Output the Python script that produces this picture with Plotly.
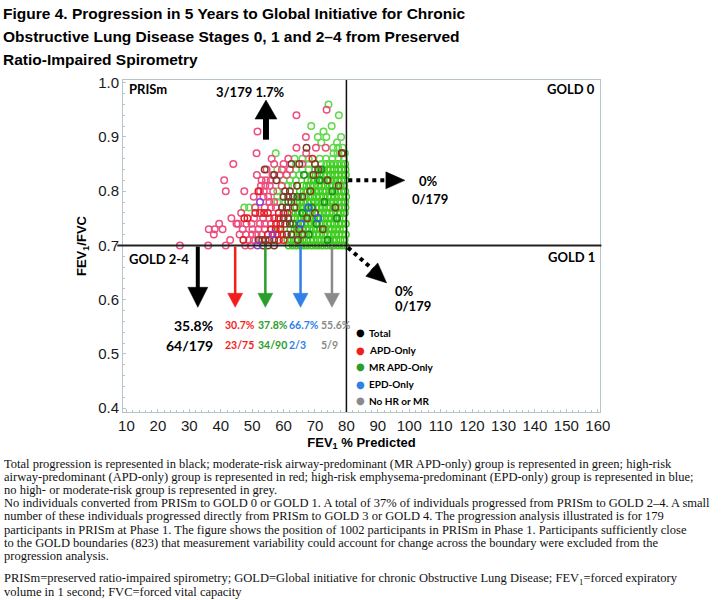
import plotly.graph_objects as go

# ---------------- data ----------------
# Scatter: PRISm participants at Phase 1 (FEV1 % predicted, FEV1/FVC)
pink_x = [27.0, 36.0, 41.6, 47.8, 49.5, 49.0, 50.5, 37.8, 46.0, 48.0, 50.0, 51.4, 53.0,
          36.2, 38.1, 40.6, 47.0, 50.1, 52.0, 54.0, 45.0, 48.2, 49.8, 52.5, 54.0, 56.0,
          43.4, 50.6, 53.5, 55.5, 46.5, 51.0, 56.0, 54.0, 57.5, 55.5, 57.0, 50.5, 53.6, 55.1,
          41.6, 47.5, 52.5, 53.7, 56.7, 52.8, 54.2, 55.6, 59.4, 41.1, 53.0, 54.4, 55.9,
          51.5, 56.5, 58.8, 61.0, 54.6, 59.5, 62.0, 44.0, 57.0, 60.0, 66.0, 56.2, 61.5,
          51.4, 67.2, 64.1, 70.3, 73.4, 67.1, 51.7, 64.1, 73.7, 43.0, 45.5, 39.5]
pink_y = [0.70, 0.70, 0.70, 0.70, 0.70, 0.71, 0.71, 0.72, 0.72, 0.72, 0.72, 0.72, 0.72,
          0.73, 0.73, 0.73, 0.73, 0.73, 0.73, 0.73, 0.74, 0.74, 0.74, 0.74, 0.74, 0.74,
          0.75, 0.75, 0.75, 0.75, 0.76, 0.77, 0.77, 0.77, 0.77, 0.78, 0.78, 0.79, 0.79, 0.79,
          0.80, 0.80, 0.80, 0.80, 0.80, 0.81, 0.81, 0.81, 0.81, 0.82, 0.82, 0.82, 0.82,
          0.83, 0.83, 0.83, 0.83, 0.84, 0.84, 0.84, 0.85, 0.85, 0.85, 0.85, 0.86, 0.86,
          0.87, 0.87, 0.88, 0.88, 0.88, 0.90, 0.91, 0.94, 0.95, 0.71, 0.74, 0.74]

red_x = [47.2, 54.3, 58.5, 60.0, 55.0, 58.0, 59.5, 56.0, 57.5, 59.0, 57.6, 59.0,
         47.5, 48.5, 57.0, 58.5, 51.0, 52.5, 53.8, 55.0, 58.5, 60.0, 61.3, 52.0, 69.2, 78.7]
red_y = [0.71, 0.71, 0.71, 0.71, 0.72, 0.72, 0.72, 0.73, 0.73, 0.73, 0.74, 0.74,
         0.75, 0.75, 0.75, 0.75, 0.76, 0.76, 0.76, 0.76, 0.76, 0.76, 0.76, 0.80, 0.86, 0.87]

brown_x = [53.5, 55.0, 57.0, 52.0, 53.2, 55.5, 57.0, 61.0, 62.5, 60.5, 62.0, 60.0, 61.5,
           59.5, 61.0, 62.5, 60.0, 61.5, 63.0, 60.5, 62.0, 64.3, 57.7, 57.0, 54.0, 62.5,
           65.0, 70.0, 78.5, 67.3, 65.0, 67.5, 64.5, 66.0, 68.5, 63.5, 70.0, 72.5, 76.5,
           69.5, 74.0, 71.0, 77.5, 66.0]
brown_y = [0.70, 0.70, 0.70, 0.71, 0.71, 0.71, 0.71, 0.72, 0.72, 0.74, 0.74, 0.75, 0.75,
           0.77, 0.77, 0.78, 0.79, 0.79, 0.79, 0.80, 0.80, 0.81, 0.82, 0.83, 0.84, 0.85,
           0.85, 0.85, 0.87, 0.88, 0.73, 0.75, 0.71, 0.79, 0.80, 0.77, 0.76, 0.73, 0.77,
           0.83, 0.82, 0.84, 0.81, 0.72]

purple_x = [52.5, 56.5, 51.7]
purple_y = [0.78, 0.72, 0.70]
blue_x = [67.9, 71.0, 65.5]
blue_y = [0.77, 0.75, 0.74]

green_x = [58.5, 47.5, 49.0, 50.9, 58.0, 60.5, 58.0, 58.0, 61.4, 62.8, 60.0, 62.0, 63.9,
           63.0, 65.0, 58.0, 64.0, 66.0, 68.0, 64.0, 68.0, 72.0, 63.5, 66.0, 68.0, 71.5,
           73.5, 75.5, 77.5, 79.2, 57.5, 75.9, 77.2, 79.5, 75.8, 77.3, 78.8, 72.0, 77.0,
           70.9, 73.6, 78.3, 72.7, 68.8, 75.3, 77.6, 74.3]
green_y = [0.73, 0.77, 0.77, 0.77, 0.78, 0.78, 0.79, 0.80, 0.81, 0.81, 0.82, 0.82, 0.82,
           0.83, 0.83, 0.84, 0.84, 0.84, 0.84, 0.85, 0.85, 0.85, 0.86, 0.86, 0.86, 0.86,
           0.86, 0.86, 0.86, 0.86, 0.87, 0.87, 0.87, 0.87, 0.88, 0.88, 0.88, 0.89, 0.89,
           0.90, 0.90, 0.90, 0.91, 0.92, 0.92, 0.94, 0.96]

darkgreen_x = [66.0, 70.5, 73.0, 68.0, 75.5, 71.5, 77.0, 64.5, 69.0, 74.0, 66.5, 72.0, 63.0, 61.5]
darkgreen_y = [0.76, 0.74, 0.78, 0.72, 0.80, 0.82, 0.75, 0.79, 0.77, 0.71, 0.83, 0.84, 0.74, 0.78]

# dense band of participants just below the GOLD 0 boundary (rows of FEV1/FVC)
dense_y = [0.70, 0.71, 0.72, 0.73, 0.74, 0.75, 0.76, 0.77, 0.78, 0.79, 0.80, 0.81, 0.82, 0.83, 0.84, 0.85]
dense_x = [
    [61.6, 62.9, 64.0, 65.3, 66.5, 67.6, 68.9, 70.1, 71.2, 72.4, 73.7, 74.9, 76.0, 77.3, 78.5, 79.6],
    [61.2, 62.4, 63.7, 64.8, 66.0, 67.3, 68.5, 69.6, 70.9, 72.1, 73.2, 74.5, 75.7, 76.8, 78.1, 79.4],
    [63.1, 64.3, 65.6, 66.7, 67.9, 69.2, 70.4, 71.5, 72.8, 74.0, 75.1, 76.4, 77.6, 78.7, 79.8],
    [62.2, 63.5, 64.6, 65.9, 67.1, 68.2, 69.5, 70.7, 71.8, 73.1, 74.3, 75.4, 76.7, 77.9, 79.1],
    [63.0, 64.2, 65.4, 66.6, 67.8, 69.0, 70.3, 71.4, 72.6, 73.9, 75.0, 76.2, 77.5, 78.6, 79.8],
    [63.3, 64.5, 65.7, 66.9, 68.1, 69.3, 70.6, 71.7, 72.9, 74.2, 75.3, 76.5, 77.8, 78.9],
    [62.6, 63.8, 65.0, 66.3, 67.4, 68.6, 69.9, 71.0, 72.2, 73.5, 74.6, 75.8, 77.1, 78.2, 79.5],
    [64.1, 65.3, 66.5, 67.7, 68.9, 70.2, 71.3, 72.5, 73.8, 74.9, 76.1, 77.4, 78.5, 79.7],
    [64.0, 65.2, 66.4, 67.6, 68.8, 70.0, 71.3, 72.4, 73.6, 74.8, 76.0, 77.3, 78.4, 79.6],
    [64.3, 65.5, 66.7, 67.9, 69.1, 70.4, 71.5, 72.7, 74.0, 75.1, 76.3, 77.6, 78.7, 79.9],
    [65.2, 66.4, 67.6, 68.8, 70.0, 71.2, 72.5, 73.6, 74.8, 76.1, 77.2, 78.4, 79.6],
    [66.1, 67.3, 68.5, 69.7, 71.0, 72.1, 73.3, 74.6, 75.7, 76.9, 78.2, 79.3],
    [67.6, 68.8, 70.0, 71.2, 72.4, 73.7, 74.8, 76.0, 77.3, 78.4, 79.6],
    [69.0, 70.2, 71.4, 72.7, 73.8, 75.0, 76.3, 77.4, 78.6, 79.8],
    [70.1, 71.3, 72.5, 73.8, 74.9, 76.1, 77.4, 78.5, 79.7],
    [73.6, 74.8, 76.0, 77.2, 78.4, 79.6],
]

# Progression to GOLD 2-4 by group
groups = ["Total", "APD-Only", "MR APD-Only", "EPD-Only", "No HR or MR"]
group_colors = ["#000000", "#f21d1d", "#2a9d2a", "#2f80e8", "#8a8a8a"]
group_arrow_x = [32.7, 44.6, 54.2, 65.4, 75.4]
group_pct = ["35.8%", "30.7%", "37.8%", "66.7%", "55.6%"]
group_frac = ["64/179", "23/75", "34/90", "2/3", "5/9"]

# ---------------- layout helpers ----------------
W, H = 728, 600
L, R, T, B = 123, 128, 80, 188
X0, X1 = 8.9, 160.7
Y0, Y1 = 0.393, 1.005
PW, PH = W - L - R, H - T - B


def pxx(p):
    return (p - L) / PW


def pxy(p):
    return (H - B - p) / PH


fig = go.Figure()

flat_dx = [x for row in dense_x for x in row]
flat_dy = [y for row, y in zip(dense_x, dense_y) for _ in row]


def add_pts(xs, ys, color, name):
    fig.add_trace(go.Scatter(
        x=xs, y=ys, mode="markers", name=name, showlegend=False, hoverinfo="skip",
        marker=dict(symbol="circle-open", size=6.5, color=color, line=dict(width=1.5))))


add_pts(flat_dx, flat_dy, "#3fcc1f", "dense")
add_pts(green_x, green_y, "#5fd84a", "green")
add_pts(pink_x, pink_y, "#ec4d7d", "pink")
add_pts(darkgreen_x, darkgreen_y, "#1d8a1d", "darkgreen")
add_pts(red_x, red_y, "#de1f26", "red")
add_pts(brown_x, brown_y, "#7d3a2a", "brown")
add_pts(purple_x, purple_y, "#8e3ad0", "purple")
add_pts(blue_x, blue_y, "#2f5fe0", "blue")

shapes = []
# boundary lines
shapes.append(dict(type="line", xref="paper", yref="y", x0=-0.012, x1=1.003, y0=0.70, y1=0.70,
                   line=dict(color="#222222", width=2)))
shapes.append(dict(type="line", xref="x", yref="paper", x0=80, x1=80, y0=0, y1=1,
                   line=dict(color="#111111", width=1.5)))


def head(x, y, path, color):
    # arrow head drawn in pixel units, anchored at the arrow tip (data coords)
    return dict(type="path", xref="x", yref="y", xsizemode="pixel", ysizemode="pixel",
                xanchor=x, yanchor=y, path=path, fillcolor=color, line=dict(color=color, width=0.5))


# up arrow (3/179)
shapes.append(dict(type="line", xref="x", yref="y", x0=54.4, x1=54.4, y0=0.895, y1=0.935,
                   line=dict(color="#000", width=6)))
shapes.append(head(54.4, 0.968, "M-11,-19 L11,-19 L0,0 Z", "#000"))

# group arrows to GOLD 2-4
for i, (gx, gc) in enumerate(zip(group_arrow_x, group_colors)):
    if i == 0:
        shapes.append(dict(type="line", xref="x", yref="y", x0=gx, x1=gx, y0=0.698, y1=0.615,
                           line=dict(color=gc, width=4)))
        shapes.append(head(gx, 0.586, "M-10,20 L10,20 L0,0 Z", gc))
    else:
        shapes.append(dict(type="line", xref="x", yref="y", x0=gx, x1=gx, y0=0.698, y1=0.607,
                           line=dict(color=gc, width=2.5)))
        shapes.append(head(gx, 0.586, "M-7.5,14 L7.5,14 L0,0 Z", gc))

# dotted arrow to GOLD 0
shapes.append(dict(type="line", x0=80.6, x1=92.9, y0=0.82, y1=0.82, xref="x", yref="y",
                   line=dict(color="#000", width=4, dash="dot")))
shapes.append(head(98.6, 0.82, "M-19,8.5 L-19,-8.5 L0,0 Z", "#000"))

# dotted arrow to GOLD 1
shapes.append(dict(type="line", x0=80.5, x1=88.4, y0=0.696, y1=0.656, xref="x", yref="y",
                   line=dict(color="#000", width=4, dash="dot")))
shapes.append(head(92.8, 0.631, "M-8.9,20 L-20.9,6.6 L0,0 Z", "#000"))

ann = []
BOLD = "Lato"


def label(xp, yp, text, size, color="#000", xanchor="left", family=BOLD):
    ann.append(dict(x=pxx(xp), y=pxy(yp), xref="paper", yref="paper", xanchor=xanchor,
                    yanchor="middle", text=text, showarrow=False,
                    font=dict(family=family, size=size, color=color)))


label(250, 92, "<b>3/179 1.7%</b>", 13, xanchor="center")

# percentage / fraction labels under group arrows
pct_x_px = [215, 223, 256, 287, 319]
for i, (p, f, gc) in enumerate(zip(group_pct, group_frac, group_colors)):
    if i == 0:
        label(215, 325, f"<b>{p}</b>", 14, gc, xanchor="right")
        label(215, 345, f"<b>{f}</b>", 14, gc, xanchor="right")
    else:
        label(pct_x_px[i], 325, f"<b>{p}</b>", 10.5, gc)
        label(pct_x_px[i], 345, f"<b>{f}</b>", 10.5, gc)

label(417, 181, "<b>0%</b>", 13)
label(410, 199, "<b>0/179</b>", 13)
label(393, 291, "<b>0%</b>", 13)
label(393, 306, "<b>0/179</b>", 13)

# quadrant labels
label(127, 89, "<b>PRISm</b>", 13)
label(597, 89, "<b>GOLD 0</b>", 13, xanchor="right")
label(597, 257, "<b>GOLD 1</b>", 13, xanchor="right")
label(127, 259, "<b>GOLD 2-4</b>", 13)

# group key
leg_py = [332.7, 350, 366.7, 384, 400.7]
for gname, gc, yy in zip(groups, group_colors, leg_py):
    label(360, yy, "●", 10, gc, xanchor="center", family="DejaVu Sans")
    label(367, yy, f"<b>{gname}</b>", 10)

# caption
caption_lines = [
    "Total progression is represented in black; moderate-risk airway-predominant (MR APD-only) group is represented in green; high-risk",
    "airway-predominant (APD-only) group is represented in red; high-risk emphysema-predominant (EPD-only) group is represented in blue;",
    "no high- or moderate-risk group is represented in grey.",
    "No individuals converted from PRISm to GOLD 0 or GOLD 1. A total of 37% of individuals progressed from PRISm to GOLD 2–4. A small",
    "number of these individuals progressed directly from PRISm to GOLD 3 or GOLD 4. The progression analysis illustrated is for 179",
    "participants in PRISm at Phase 1. The figure shows the position of 1002 participants in PRISm in Phase 1. Participants sufficiently close",
    "to the GOLD boundaries (823) that measurement variability could account for change across the boundary were excluded from the",
    "progression analysis.",
    "PRISm=preserved ratio-impaired spirometry; GOLD=Global initiative for chronic Obstructive Lung Disease; FEV<sub>1</sub>=forced expiratory",
    "volume in 1 second; FVC=forced vital capacity",
]
caption_py = [463.5, 476.8, 490, 503.2, 516.4, 529.6, 542.8, 556, 579, 592.3]
for line, yy in zip(caption_lines, caption_py):
    label(2, yy, line, 12.5, "#111", family="Liberation Serif")

title_lines = [
    "Figure 4. Progression in 5 Years to Global Initiative for Chronic",
    "Obstructive Lung Disease Stages 0, 1 and 2–4 from Preserved",
    "Ratio-Impaired Spirometry",
]
for line, yy in zip(title_lines, [14, 37, 60]):
    label(1, yy, f"<b>{line}</b>", 15.5, "#000", family="Liberation Sans")

axis_common = dict(showgrid=False, zeroline=False, showline=True, linecolor="#b7c4c9", linewidth=1,
                   mirror=True, ticks="inside", ticklen=3, tickcolor="#b7c4c9",
                   tickfont=dict(family="Liberation Sans", size=15, color="#1a1a1a"))

fig.update_layout(
    width=W, height=H, margin=dict(l=L, r=R, t=T, b=B),
    paper_bgcolor="white", plot_bgcolor="white", showlegend=False,
    annotations=ann, shapes=shapes,
    xaxis=dict(range=[X0, X1], tick0=10, dtick=10,
               minor=dict(dtick=2, ticks="inside", ticklen=2, tickcolor="#b7c4c9"),
               title=dict(text="<b>FEV<sub>1</sub> % Predicted</b>", standoff=4,
                          font=dict(family="Liberation Sans", size=13, color="#000")),
               **axis_common),
    yaxis=dict(range=[Y0, Y1], tick0=0.4, dtick=0.1, tickformat=".1f",
               minor=dict(dtick=0.02, ticks="inside", ticklen=2, tickcolor="#b7c4c9"),
               title=dict(text="<b>FEV<sub>1</sub>/FVC</b>", standoff=8,
                          font=dict(family="Liberation Sans", size=13, color="#000")),
               **axis_common),
)

fig.write_html("out.html", config={"displayModeBar": False},
               post_script="document.body.style.margin='0';document.body.style.overflow='hidden';")
